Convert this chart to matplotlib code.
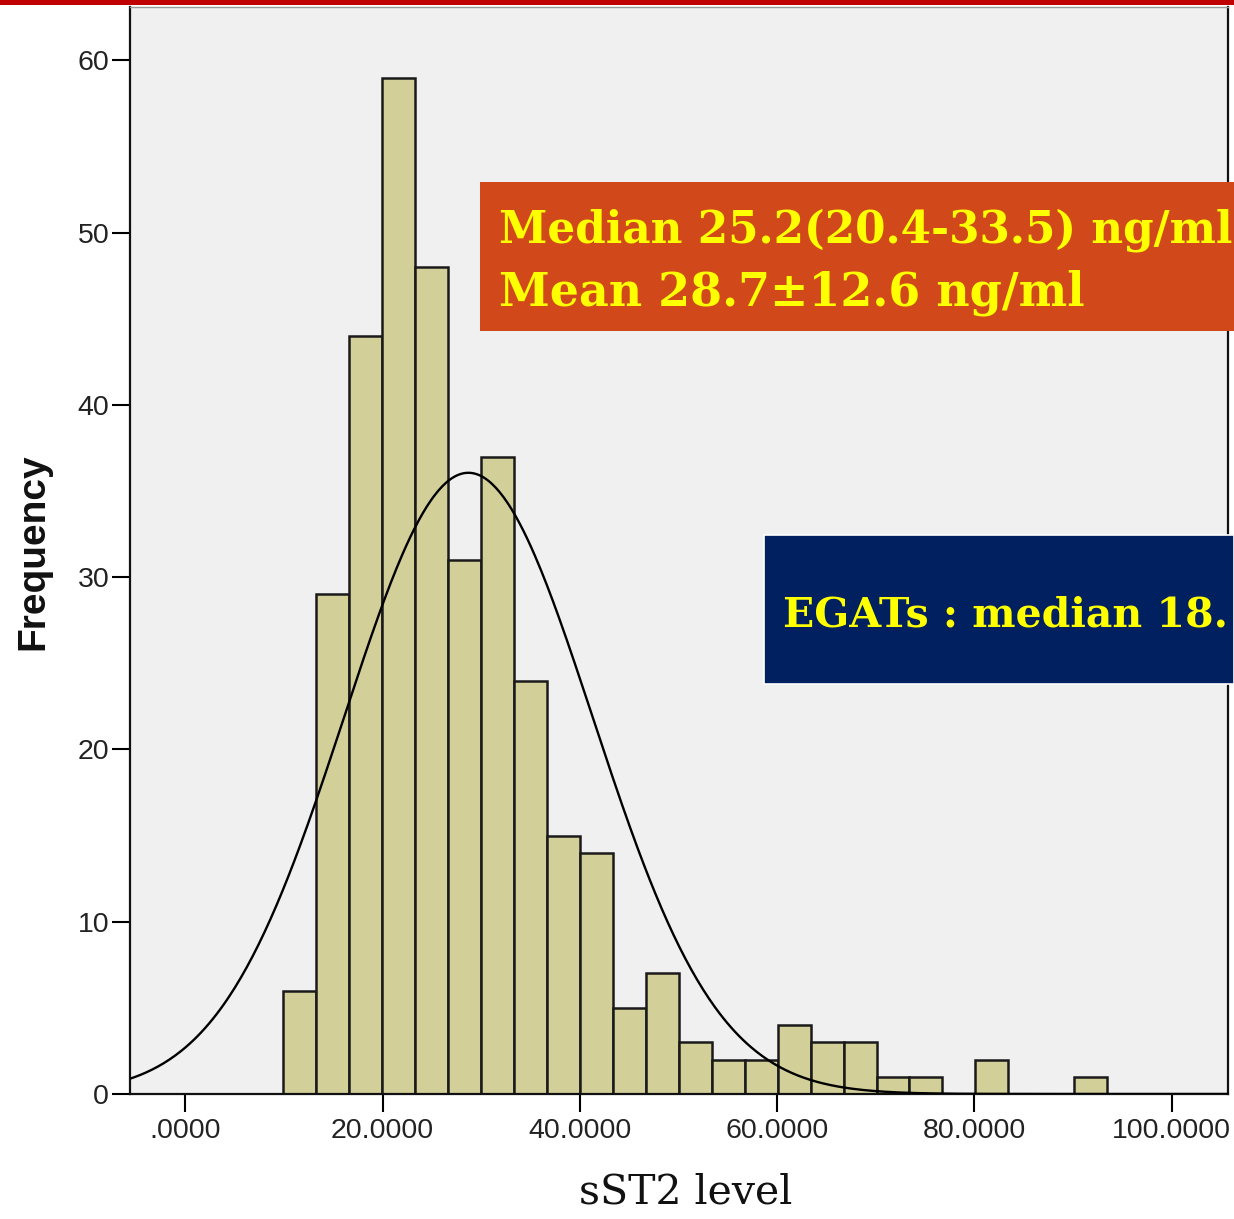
import numpy as np
import matplotlib
matplotlib.use("Agg")
import matplotlib.pyplot as plt
from matplotlib.patches import Rectangle

# histogram
bin_start = 9.95
bin_width = 3.34
counts = [6, 29, 44, 59, 48, 31, 37, 24, 15, 14, 5, 7, 3, 2, 2, 4, 3, 3, 1, 1, 0, 2, 0, 0, 1]

# normal curve parameters
mean_val = 28.7
sd_val = 12.6

x_ticks = [0, 20, 40, 60, 80, 100]
x_tick_labels = [".0000", "20.0000", "40.0000", "60.0000", "80.0000", "100.0000"]
y_ticks = [0, 10, 20, 30, 40, 50, 60]

box1_lines = ["Median 25.2(20.4-33.5) ng/ml", "Mean 28.7\u00b112.6 ng/ml"]
box2_text = "EGATs : median 18."

W, H = 1234, 1219
fig = plt.figure(figsize=(W / 100, H / 100), dpi=100)
fig.patch.set_facecolor("white")

ax = fig.add_axes([130 / W, 1 - 1094 / H, (1228 - 130) / W, (1094 - 7) / H])
ax.set_facecolor("#F0F0F0")

edges = bin_start + bin_width * np.arange(len(counts) + 1)
ax.bar(edges[:-1], counts, width=bin_width, align="edge",
       color="#D3CF98", edgecolor="#1a1a1a", linewidth=1.8, zorder=2)

n = sum(counts)
xs = np.linspace(-10, 110, 600)
ys = n * bin_width / (sd_val * np.sqrt(2 * np.pi)) * np.exp(-0.5 * ((xs - mean_val) / sd_val) ** 2)
ax.plot(xs, ys, color="black", linewidth=1.7, zorder=3)

ax.set_xlim(-5.6, 105.7)
ax.set_ylim(0, 63.1)

ax.set_xticks(x_ticks)
ax.set_xticklabels(x_tick_labels, family="Liberation Sans", fontsize=20.5, color="#222222")
ax.set_yticks(y_ticks)
ax.set_yticklabels([str(v) for v in y_ticks], family="Liberation Sans", fontsize=20.5, color="#222222")
ax.tick_params(axis="x", direction="out", length=13, width=1.5, pad=4)
ax.tick_params(axis="y", direction="out", length=13, width=1.5, pad=2)

for side in ["left", "bottom", "right"]:
    ax.spines[side].set_color("#111111")
    ax.spines[side].set_linewidth(1.6)
ax.spines["top"].set_color("#999999")
ax.spines["top"].set_linewidth(1.0)

fig.text(33 / W, 1 - 552 / H, "Frequency", rotation=90, family="Liberation Sans",
         fontweight="bold", fontsize=28, ha="center", va="center", color="#111111")
fig.text(686 / W, 1 - 1193 / H, "sST2 level", family="DejaVu Serif", fontsize=29.5,
         ha="center", va="center", color="#111111")

# red rule at the very top
fig.add_artist(Rectangle((0, 1 - 5 / H), 1, 5 / H, transform=fig.transFigure,
                         facecolor="#C00000", edgecolor="none", zorder=5))

# orange stats box
fig.add_artist(Rectangle((480 / W, 1 - 331 / H), (W - 480) / W, (331 - 182) / H,
                         transform=fig.transFigure, facecolor="#D1491A",
                         edgecolor="none", zorder=5))
fig.text(499 / W, 1 - 243 / H, box1_lines[0], family="DejaVu Serif", fontweight="bold",
         fontsize=31.5, color="#FFFF00", ha="left", va="baseline", zorder=6)
fig.text(499 / W, 1 - 306 / H, box1_lines[1], family="DejaVu Serif", fontweight="bold",
         fontsize=33, color="#FFFF00", ha="left", va="baseline", zorder=6)

# navy box
fig.add_artist(Rectangle((764 / W, 1 - 684 / H), (W - 764) / W, (684 - 535) / H,
                         transform=fig.transFigure, facecolor="#002060",
                         edgecolor="white", linewidth=1.2, zorder=5))
fig.text(783 / W, 1 - 627 / H, box2_text, family="DejaVu Serif", fontweight="bold",
         fontsize=29.5, color="#FFFF00", ha="left", va="baseline", zorder=6)

fig.savefig("out.png", dpi=100, facecolor="white")
